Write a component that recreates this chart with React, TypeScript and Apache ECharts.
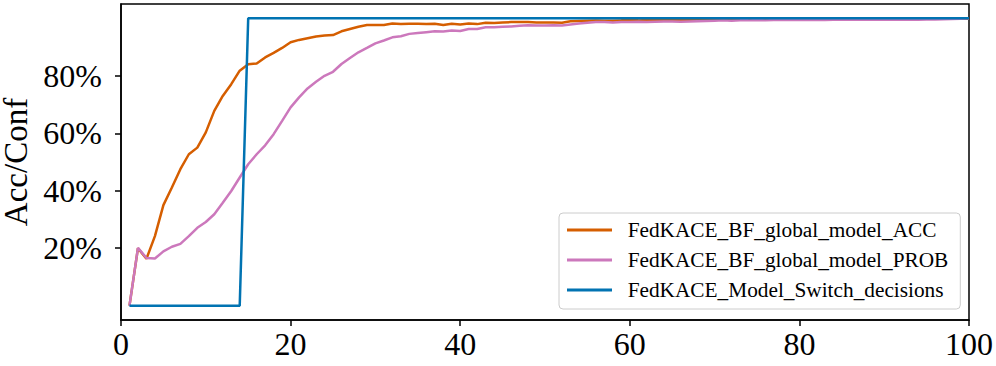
import React, { useEffect, useRef } from "react";
import * as echarts from "echarts";

const rounds: number[] = [
  1, 2, 3, 4, 5, 6, 7, 8, 9, 10, 11, 12, 13, 14, 15, 16, 17, 18, 19, 20,
  21, 22, 23, 24, 25, 26, 27, 28, 29, 30, 31, 32, 33, 34, 35, 36, 37, 38, 39, 40,
  41, 42, 43, 44, 45, 46, 47, 48, 49, 50, 51, 52, 53, 54, 55, 56, 57, 58, 59, 60,
  61, 62, 63, 64, 65, 66, 67, 68, 69, 70, 71, 72, 73, 74, 75, 76, 77, 78, 79, 80,
  81, 82, 83, 84, 85, 86, 87, 88, 89, 90, 91, 92, 93, 94, 95, 96, 97, 98, 99, 100,
];

const accValues: number[] = [
  0.0, 0.2, 0.163, 0.242, 0.35, 0.411, 0.475, 0.527, 0.55, 0.603,
  0.678, 0.73, 0.771, 0.818, 0.84, 0.843, 0.864, 0.88, 0.897, 0.917,
  0.925, 0.931, 0.937, 0.94, 0.942, 0.955, 0.963, 0.971, 0.977, 0.977,
  0.977, 0.982, 0.98, 0.981, 0.981, 0.98, 0.981, 0.977, 0.981, 0.979,
  0.982, 0.98, 0.985, 0.984, 0.986, 0.987, 0.987, 0.987, 0.986, 0.986,
  0.986, 0.985, 0.99, 0.991, 0.992, 0.993, 0.992, 0.992, 0.993, 0.993,
  0.993, 0.994, 0.994, 0.994, 0.995, 0.995, 0.995, 0.996, 0.996, 0.996,
  0.996, 0.997, 0.997, 0.997, 0.997, 0.997, 0.997, 0.998, 0.998, 0.998,
  0.998, 0.998, 0.998, 0.998, 0.998, 0.998, 0.999, 0.999, 0.999, 0.999,
  0.999, 0.999, 0.999, 0.999, 0.999, 0.999, 0.999, 0.999, 0.999, 0.999,
];

const probValues: number[] = [
  0.0, 0.201, 0.166, 0.164, 0.189, 0.205, 0.215, 0.242, 0.271, 0.291,
  0.318, 0.358, 0.399, 0.446, 0.492, 0.527, 0.558, 0.597, 0.643, 0.69,
  0.725, 0.756, 0.779, 0.8, 0.814, 0.841, 0.862, 0.882, 0.897, 0.913,
  0.923, 0.934, 0.938, 0.946, 0.949, 0.952, 0.955, 0.954, 0.958, 0.956,
  0.963, 0.963, 0.969, 0.969, 0.971, 0.972, 0.974, 0.976, 0.975, 0.975,
  0.976, 0.975, 0.979, 0.982, 0.985, 0.987, 0.987, 0.986, 0.987, 0.987,
  0.988, 0.987, 0.988, 0.989, 0.989, 0.988, 0.989, 0.99, 0.991, 0.992,
  0.993, 0.992, 0.993, 0.993, 0.994, 0.993, 0.994, 0.994, 0.994, 0.994,
  0.994, 0.995, 0.994, 0.995, 0.995, 0.995, 0.995, 0.995, 0.995, 0.995,
  0.995, 0.995, 0.996, 0.995, 0.996, 0.996, 0.997, 0.998, 0.999, 1.0,
];

const switchValues: number[] = [
  0, 0, 0, 0, 0, 0, 0, 0, 0, 0,
  0, 0, 0, 0, 1, 1, 1, 1, 1, 1,
  1, 1, 1, 1, 1, 1, 1, 1, 1, 1,
  1, 1, 1, 1, 1, 1, 1, 1, 1, 1,
  1, 1, 1, 1, 1, 1, 1, 1, 1, 1,
  1, 1, 1, 1, 1, 1, 1, 1, 1, 1,
  1, 1, 1, 1, 1, 1, 1, 1, 1, 1,
  1, 1, 1, 1, 1, 1, 1, 1, 1, 1,
  1, 1, 1, 1, 1, 1, 1, 1, 1, 1,
  1, 1, 1, 1, 1, 1, 1, 1, 1, 1,
];

const seriesNames: string[] = [
  "FedKACE_BF_global_model_ACC",
  "FedKACE_BF_global_model_PROB",
  "FedKACE_Model_Switch_decisions",
];
const seriesColors: string[] = ["#D55E00", "#CC78BC", "#0173B2"];
const yTickValues: number[] = [0.2, 0.4, 0.6, 0.8];
const xTickValues: number[] = [0, 20, 40, 60, 80, 100];

const FONT = "Liberation Serif";

export default function App() {
  const ref = useRef<HTMLDivElement>(null);
  useEffect(() => {
    if (!ref.current) return;
    const chart = echarts.init(ref.current, undefined, { renderer: "svg" });
    const allValues = [accValues, probValues, switchValues];
    const legendText = {
      color: "#000",
      fontSize: 21.3,
      fontFamily: FONT,
      lineHeight: 22,
    };
    chart.setOption({
      animation: false,
      backgroundColor: "#fff",
      textStyle: { fontFamily: FONT },
      grid: {
        left: 121,
        right: 27,
        top: 4,
        bottom: 46,
        containLabel: false,
        outerBoundsMode: "none",
        show: true,
        borderColor: "#000",
        borderWidth: 1.5,
        backgroundColor: "transparent",
      },
      xAxis: {
        type: "value",
        min: xTickValues[0],
        max: xTickValues[xTickValues.length - 1],
        interval: 20,
        axisLine: { show: true, onZero: false, lineStyle: { color: "#000", width: 1.5 } },
        axisTick: { show: true, inside: false, length: 6, lineStyle: { color: "#000", width: 1.5 } },
        axisLabel: { color: "#000", fontSize: 32, fontFamily: FONT, margin: 8 },
        splitLine: { show: false },
      },
      yAxis: {
        type: "value",
        min: -0.05,
        max: 1.05,
        name: "Acc/Conf",
        nameLocation: "middle",
        nameRotate: 90,
        nameGap: 81,
        nameTextStyle: { color: "#000", fontSize: 33, fontFamily: FONT, lineHeight: 28 },
        axisLine: { show: true, onZero: false, lineStyle: { color: "#000", width: 1.5 } },
        axisTick: {
          show: true,
          inside: false,
          length: 6,
          customValues: yTickValues,
          lineStyle: { color: "#000", width: 1.5 },
        },
        axisLabel: {
          color: "#000",
          fontSize: 32,
          fontFamily: FONT,
          margin: 19,
          customValues: yTickValues,
          formatter: (v: number) => Math.round(v * 100) + "%",
        },
        splitLine: { show: false },
      },
      legend: {
        show: true,
        orient: "vertical",
        left: 559,
        top: 213,
        padding: [6, 12, 8, 8],
        icon: "rect",
        itemWidth: 45,
        itemHeight: 3,
        itemGap: 8,
        backgroundColor: "rgba(255,255,255,0.8)",
        borderColor: "#ccc",
        borderWidth: 1,
        borderRadius: 4,
        formatter: (name: string) => "  " + name,
        textStyle: legendText,
        data: seriesNames,
      },
      series: seriesNames.map((name, i) => ({
        name,
        type: "line",
        data: rounds.map((r, j) => [r, allValues[i][j]]),
        showSymbol: false,
        symbol: "none",
        lineStyle: { color: seriesColors[i], width: 2.5 },
        itemStyle: { color: seriesColors[i] },
        z: 2 + i,
      })),
    });
    return () => chart.dispose();
  }, []);
  return (
    <div
      ref={ref}
      style={{ position: "fixed", left: 0, top: 0, width: 996, height: 366, background: "#fff" }}
    />
  );
}
